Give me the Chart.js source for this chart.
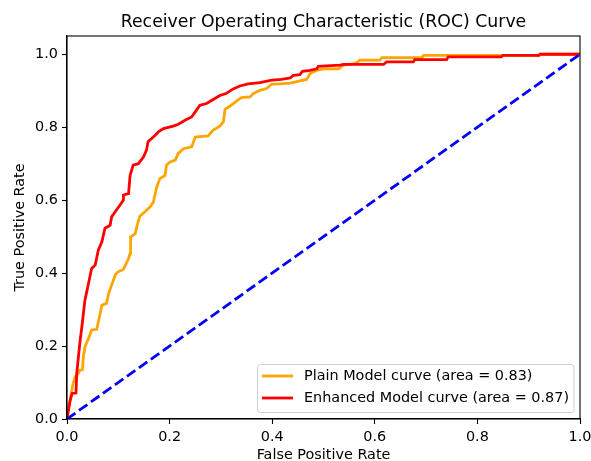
<!DOCTYPE html>
<html>
<head>
<meta charset="utf-8">
<script src="https://cdn.jsdelivr.net/npm/chart.js@4"></script>
<style>
  html, body { margin: 0; padding: 0; background: #fff; }
  #wrap { width: 591px; height: 461px; }
</style>
</head>
<body>
<div id="wrap"><canvas id="c" width="591" height="461"></canvas></div>
<script>
const chartTitle = "Receiver Operating Characteristic (ROC) Curve";
const xLabel = "False Positive Rate";
const yLabel = "True Positive Rate";
const xTicks = [0.0, 0.2, 0.4, 0.6, 0.8, 1.0];
const yTicks = [0.0, 0.2, 0.4, 0.6, 0.8, 1.0];

const plainLabel = "Plain Model curve (area = 0.83)";
const plainFpr = [0,0,0.006,0.012,0.016,0.022,0.025,0.03,0.032,0.035,0.042,0.048,0.058,0.064,0.068,0.077,0.081,0.087,0.094,0.1,0.11,0.12,0.123,0.124,0.133,0.137,0.142,0.152,0.162,0.168,0.175,0.181,0.191,0.194,0.201,0.211,0.217,0.227,0.243,0.25,0.259,0.275,0.285,0.298,0.305,0.308,0.318,0.331,0.340,0.357,0.363,0.376,0.389,0.399,0.415,0.435,0.454,0.467,0.474,0.487,0.5,0.529,0.539,0.561,0.571,0.610,0.614,0.692,0.695,0.92,0.922,1];
const plainTpr = [0,0.006,0.052,0.098,0.116,0.125,0.134,0.135,0.171,0.198,0.221,0.244,0.246,0.285,0.312,0.317,0.344,0.367,0.395,0.404,0.41,0.44,0.454,0.499,0.508,0.532,0.556,0.568,0.582,0.593,0.636,0.659,0.668,0.696,0.705,0.710,0.728,0.741,0.746,0.773,0.774,0.776,0.792,0.803,0.815,0.849,0.858,0.872,0.881,0.883,0.892,0.901,0.906,0.918,0.919,0.921,0.927,0.931,0.947,0.956,0.960,0.960,0.970,0.974,0.984,0.984,0.991,0.991,0.997,0.997,1.0,1.0];

const enhLabel = "Enhanced Model curve (area = 0.87)";
const enhFpr = [0,0.006,0.01,0.0175,0.019,0.025,0.029,0.035,0.042,0.048,0.055,0.061,0.068,0.074,0.084,0.087,0.094,0.103,0.11,0.11,0.12,0.123,0.129,0.139,0.149,0.155,0.158,0.172,0.178,0.188,0.207,0.217,0.23,0.243,0.25,0.259,0.272,0.285,0.298,0.311,0.324,0.337,0.353,0.376,0.399,0.418,0.435,0.441,0.454,0.459,0.474,0.487,0.49,0.532,0.539,0.617,0.623,0.675,0.678,0.74,0.743,0.847,0.85,0.92,0.922,1];
const enhTpr = [0,0.05,0.07,0.071,0.126,0.208,0.253,0.326,0.372,0.413,0.422,0.463,0.486,0.523,0.531,0.554,0.568,0.586,0.6,0.614,0.618,0.668,0.696,0.70,0.718,0.737,0.760,0.778,0.787,0.796,0.803,0.808,0.819,0.828,0.842,0.860,0.865,0.876,0.887,0.893,0.905,0.913,0.919,0.922,0.929,0.931,0.935,0.942,0.944,0.953,0.956,0.960,0.967,0.970,0.972,0.972,0.979,0.979,0.985,0.985,0.993,0.993,0.997,0.997,1.0,1.0];

const chanceFpr = [0, 1];
const chanceTpr = [0, 1];

const FONT = "'DejaVu Sans', sans-serif";
const pts = (xs, ys) => xs.map((x, i) => ({ x: x, y: ys[i] }));

const frameAndLegend = {
  id: 'frameAndLegend',
  afterDraw(chart) {
    const ctx = chart.ctx;
    const a = chart.chartArea;
    ctx.save();
    ctx.strokeStyle = '#000';
    ctx.lineWidth = 1.1;
    ctx.strokeRect(a.left, a.top, a.right - a.left, a.bottom - a.top);

    // title centred over the axes
    ctx.fillStyle = '#000';
    ctx.font = '17.3px ' + FONT;
    ctx.textAlign = 'center';
    ctx.textBaseline = 'alphabetic';
    ctx.fillText(chartTitle, (a.left + a.right) / 2, 27);

    // legend (matplotlib style, lower right inside axes)
    const entries = chart.data.datasets.filter(d => d.legendOrder !== undefined)
      .sort((p, q) => p.legendOrder - q.legendOrder);
    const bx = 257.5, by = 364.5, bw = 316.5, bh = 48, r = 3;
    ctx.beginPath();
    ctx.moveTo(bx + r, by);
    ctx.lineTo(bx + bw - r, by);
    ctx.arcTo(bx + bw, by, bx + bw, by + r, r);
    ctx.lineTo(bx + bw, by + bh - r);
    ctx.arcTo(bx + bw, by + bh, bx + bw - r, by + bh, r);
    ctx.lineTo(bx + r, by + bh);
    ctx.arcTo(bx, by + bh, bx, by + bh - r, r);
    ctx.lineTo(bx, by + r);
    ctx.arcTo(bx, by, bx + r, by, r);
    ctx.closePath();
    ctx.fillStyle = 'rgba(255,255,255,0.8)';
    ctx.fill();
    ctx.strokeStyle = '#d0d0d0';
    ctx.lineWidth = 1;
    ctx.stroke();
    ctx.font = '14.4px ' + FONT;
    ctx.textBaseline = 'middle';
    ctx.textAlign = 'left';
    entries.forEach((d, i) => {
      const y = 376 + i * 22;
      ctx.strokeStyle = d.borderColor;
      ctx.lineWidth = d.borderWidth;
      ctx.setLineDash([]);
      ctx.beginPath();
      ctx.moveTo(262, y);
      ctx.lineTo(293, y);
      ctx.stroke();
      ctx.fillStyle = '#000';
      ctx.fillText(d.label, 304, y + 0.5);
    });
    ctx.restore();
  }
};

new Chart(document.getElementById('c'), {
  type: 'scatter',
  data: {
    datasets: [
      { label: 'chance', data: pts(chanceFpr, chanceTpr), showLine: true, borderColor: '#0000ff',
        borderWidth: 2.78, borderDash: [10.3, 4.4], pointRadius: 0, fill: false },
      { label: enhLabel, legendOrder: 1, data: pts(enhFpr, enhTpr), showLine: true, borderColor: '#ff0000',
        borderWidth: 2.78, pointRadius: 0, fill: false, tension: 0 },
      { label: plainLabel, legendOrder: 0, data: pts(plainFpr, plainTpr), showLine: true, borderColor: '#ffa500',
        borderWidth: 2.78, pointRadius: 0, fill: false, tension: 0 }
    ]
  },
  options: {
    responsive: false,
    animation: false,
    devicePixelRatio: 1,
    layout: { padding: { top: 36, right: 11, bottom: 0, left: 0 } },
    plugins: {
      legend: { display: false },
      tooltip: { enabled: false },
      title: { display: false }
    },
    scales: {
      x: {
        type: 'linear', min: 0, max: 1,
        afterBuildTicks: s => { s.ticks = xTicks.map(v => ({ value: v })); },
        afterFit: s => { s.height = 42; s.paddingLeft = 0; s.paddingRight = 0; },
        ticks: { color: '#000', font: { family: FONT, size: 14.4 }, padding: 5, maxRotation: 0,
          callback: v => Number(v).toFixed(1) },
        grid: { drawOnChartArea: false, drawTicks: true, tickLength: 5, color: '#000', tickWidth: 1.1 },
        border: { display: true, color: '#000', width: 1.1 },
        title: { display: true, text: xLabel, color: '#000',
          font: { family: FONT, size: 14.4, lineHeight: 0.85 }, padding: { top: 0, bottom: 0 } }
      },
      y: {
        type: 'linear', min: 0, max: 1.05,
        afterBuildTicks: s => { s.ticks = yTicks.map(v => ({ value: v })); },
        afterFit: s => { s.width = 67; s.paddingTop = 0; s.paddingBottom = 0; },
        ticks: { color: '#000', font: { family: FONT, size: 14.4 }, padding: 4,
          callback: v => Number(v).toFixed(1) },
        grid: { drawOnChartArea: false, drawTicks: true, tickLength: 5, color: '#000', tickWidth: 1.1 },
        border: { display: true, color: '#000', width: 1.1 },
        title: { display: true, text: yLabel, color: '#000',
          font: { family: FONT, size: 14.4, lineHeight: 0.85 }, padding: { top: 14, bottom: 0 } }
      }
    }
  },
  plugins: [frameAndLegend]
});
</script>
</body>
</html>
